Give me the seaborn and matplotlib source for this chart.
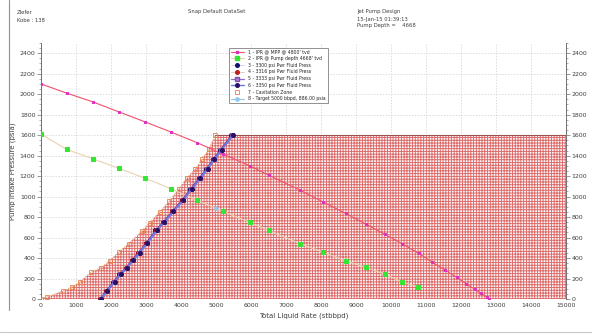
import matplotlib
matplotlib.use("Agg")
import matplotlib.pyplot as plt
import seaborn as sns
import numpy as np
import pandas as pd
from matplotlib.lines import Line2D

# ---------------- data ----------------
ipr_mpp_x = [0, 740, 1480, 2220, 2970, 3720, 4470, 5200, 5970, 6500, 7400, 8070, 8700,
             9280, 9820, 10320, 10790, 11180, 11540, 11880, 12150, 12390, 12570, 12740, 12800]
ipr_mpp_y = [2100, 2010, 1925, 1828, 1730, 1630, 1525, 1415, 1300, 1210, 1063, 946, 836,
             732, 632, 540, 445, 360, 283, 211, 149, 95, 56, 17, 0]

ipr_pump_x = [0, 740, 1480, 2230, 2970, 3720, 4470, 5210, 5960, 6500, 7400, 8070, 8700,
              9280, 9830, 10320, 10780]
ipr_pump_y = [1610, 1460, 1369, 1275, 1180, 1076, 963, 855, 748, 670, 540, 455, 373,
              309, 242, 166, 118]

pf3300_x = [1680, 1850, 2060, 2240, 2420, 2590, 2770, 2990, 3270, 3480, 3740, 4020,
            4260, 4510, 4720, 4910, 5120, 5440]
pf3300_y = [0, 78, 166, 241, 306, 377, 452, 543, 670, 748, 855, 963,
            1073, 1178, 1271, 1363, 1457, 1600]
pf3316_x = [1695, 1865, 2075, 2255, 2435, 2605, 2785, 3005, 3285, 3495, 3755, 4035,
            4275, 4525, 4735, 4925, 5135, 5455]
pf3316_y = [0, 78, 166, 241, 306, 377, 452, 543, 670, 748, 855, 963,
            1073, 1178, 1271, 1363, 1457, 1600]
pf3333_x = [1710, 1880, 2090, 2270, 2450, 2620, 2800, 3020, 3300, 3510, 3770, 4050,
            4290, 4540, 4750, 4940, 5150, 5470]
pf3333_y = [0, 78, 166, 241, 306, 377, 452, 543, 670, 748, 855, 963,
            1073, 1178, 1271, 1363, 1457, 1600]
pf3350_x = [1725, 1895, 2105, 2285, 2465, 2635, 2815, 3035, 3315, 3525, 3785, 4065,
            4305, 4555, 4765, 4955, 5165, 5485]
pf3350_y = [0, 78, 166, 241, 306, 377, 452, 543, 670, 748, 855, 963,
            1073, 1178, 1271, 1363, 1457, 1600]

cav_x = [0, 180, 630, 880, 1120, 1430, 1720, 1960, 2220, 2500, 2880, 3100, 3390,
         3670, 3930, 4160, 4410, 4600, 4790, 4980]
cav_y = [0, 20, 78, 117, 169, 263, 306, 374, 459, 540, 663, 745, 849,
         959, 1073, 1180, 1271, 1366, 1460, 1600]
cav_limit_psia = 1600
rate_max = 15000

target_x = [5000]
target_y = [886]

labels = [
    "1 - IPR @ MPP @ 4800' tvd",
    "2 - IPR @ Pump depth 4668' tvd",
    "3 - 3300 psi Pwr Fluid Press",
    "4 - 3316 psi Pwr Fluid Press",
    "5 - 3333 psi Pwr Fluid Press",
    "6 - 3350 psi Pwr Fluid Press",
    "7 - Cavitation Zone",
    "8 - Target 5000 bbpd, 886.00 psia",
]

x_ticks = list(range(0, 15001, 1000))
y_ticks = list(range(0, 2401, 200))

# ---------------- style ----------------
sns.set_theme(style="white")
plt.rcParams["font.family"] = ["DejaVu Sans"]
plt.rcParams["hatch.linewidth"] = 0.65

fig = plt.figure(figsize=(5.92, 3.34), dpi=100)
ax = fig.add_axes([41 / 592, 1 - 299 / 334, 525 / 592, 256 / 334])

# cavitation zone (hatched)
zone_x = cav_x + [rate_max]
zone_y = cav_y + [cav_limit_psia]
ax.fill_between(zone_x, 0, zone_y, facecolor="#fdf3f3", edgecolor="#dc6a6a",
                hatch="++++++", linewidth=0, zorder=1)
ax.plot([cav_x[-1], rate_max], [cav_limit_psia, cav_limit_psia],
        color="#a05050", lw=0.8, zorder=2)

def draw(x, y, **kw):
    df = pd.DataFrame({"x": x, "y": y})
    sns.lineplot(data=df, x="x", y="y", ax=ax, sort=False, estimator=None,
                 legend=False, **kw)

# cavitation curve
draw(cav_x, cav_y, color="#dcb878", lw=0.7, linestyle=(0, (1.5, 1.5)),
     marker="s", markersize=3.0, markerfacecolor="none",
     markeredgecolor="#e8804a", markeredgewidth=0.6, zorder=3)

# IPR curves
draw(ipr_pump_x, ipr_pump_y, color="#ead2b0", lw=0.8,
     marker="s", markersize=2.3, markerfacecolor="#33e633",
     markeredgecolor="#33e633", zorder=4)
draw(ipr_mpp_x, ipr_mpp_y, color="#f0506e", lw=0.8,
     marker="s", markersize=1.9, markerfacecolor="#e030c0",
     markeredgecolor="#e030c0", zorder=4)

# power fluid lines
draw(pf3300_x, pf3300_y, color="#3030a0", lw=0.6, marker="o", markersize=2.8,
     markerfacecolor="#101070", markeredgecolor="#101070", zorder=5)
draw(pf3316_x, pf3316_y, color="#b04060", lw=0.6, marker="o", markersize=2.8,
     markerfacecolor="#a01030", markeredgecolor="#a01030", zorder=5)
draw(pf3333_x, pf3333_y, color="#9070d0", lw=0.9, marker="s", markersize=2.6,
     markerfacecolor="#8050b0", markeredgecolor="#8050b0", zorder=5)
draw(pf3350_x, pf3350_y, color="#6a78e8", lw=1.3, marker="o", markersize=2.8,
     markerfacecolor="#2a1060", markeredgecolor="#2a1060", zorder=6)

# target point
draw(target_x, target_y, color="#90c8f0", lw=0.8, marker="o", markersize=2.5,
     markerfacecolor="#90c8f0", markeredgecolor="#90c8f0", zorder=7)

# ---------------- axes ----------------
ax.set_xlim(0, rate_max)
ax.set_ylim(0, 2500)
ax.set_xticks(x_ticks)
ax.set_yticks(y_ticks)
ax.set_yticks(list(range(0, 2501, 50)), minor=True)
ax.grid(True, which="major", color="#d0d0d0", linestyle=(0, (1.5, 2)), lw=0.6)
ax.set_axisbelow(True)

for s in ["top", "bottom"]:
    ax.spines[s].set_visible(False)
for s in ["left", "right"]:
    ax.spines[s].set_visible(True)
    ax.spines[s].set_color("#707070")
    ax.spines[s].set_linewidth(0.7)

ax.tick_params(axis="y", which="major", left=True, right=True, labelleft=True,
               labelright=True, length=3, width=0.5, color="#707070",
               labelsize=4.5, labelcolor="#404040", pad=1)
ax.tick_params(axis="y", which="minor", left=True, right=True, length=1.5,
               width=0.4, color="#707070")
ax.tick_params(axis="x", which="major", bottom=False, length=0, labelsize=4.5,
               labelcolor="#404040", pad=3)
ax.set_xlabel("Total Liquid Rate (stbbpd)", fontsize=5, color="#404040", labelpad=3)
ax.set_ylabel("Pump Intake Pressure (psia)", fontsize=5, color="#404040", labelpad=3)

# legend
handles = [
    Line2D([], [], color="#f0506e", lw=0.8, marker="s", ms=2.0, mfc="#e030c0", mec="#e030c0"),
    Line2D([], [], color="#ead2b0", lw=0.8, marker="s", ms=2.6, mfc="#33e633", mec="#33e633"),
    Line2D([], [], color="#c8c8e8", lw=0.6, marker="o", ms=2.6, mfc="#101070", mec="#101070"),
    Line2D([], [], color="#e8c0c0", lw=0.6, marker="o", ms=2.6, mfc="#c02020", mec="#c02020"),
    Line2D([], [], color="#9070d0", lw=0.9, marker="s", ms=2.6, mfc="#b080d0", mec="#8050b0"),
    Line2D([], [], color="#6a78e8", lw=1.0, marker="o", ms=2.6, mfc="#2a1060", mec="#2a1060"),
    Line2D([], [], color="none", marker="s", ms=2.8, mfc="none", mec="#e8804a", mew=0.6),
    Line2D([], [], color="#90c8f0", lw=0.8, marker="o", ms=2.4, mfc="#90c8f0", mec="#90c8f0"),
]
leg = ax.legend(handles, labels, loc="upper left", bbox_to_anchor=(0.358, 0.982),
                fontsize=3.3, frameon=True, fancybox=False, edgecolor="#808080",
                framealpha=1, borderpad=0.35, labelspacing=0.38, handlelength=3.0,
                handletextpad=0.9, borderaxespad=0)
leg.get_frame().set_linewidth(0.6)
leg.set_zorder(10)

# header texts
hdr = dict(fontsize=3.8, color="#404040", transform=fig.transFigure, va="center", ha="left")
fig.text(17 / 592, 1 - 13 / 334, "Zlefer", **hdr)
fig.text(17 / 592, 1 - 20 / 334, "Kobe : 138", **hdr)
fig.text(188 / 592, 1 - 12 / 334, "Snap Default DataSet", **hdr)
fig.text(357 / 592, 1 - 12 / 334, "Jet Pump Design", **hdr)
fig.text(357 / 592, 1 - 19 / 334, "15-Jan-15 01:39:13", **hdr)
fig.text(357 / 592, 1 - 26 / 334, "Pump Depth =    4668", **hdr)

# window borders
fig.add_artist(Line2D([9 / 592, 9 / 592], [1 - 310 / 334, 1.0], color="#909090",
                      lw=0.8, transform=fig.transFigure))
fig.add_artist(Line2D([0, 1], [1 - 332 / 334, 1 - 332 / 334], color="#c8c8c8",
                      lw=0.8, transform=fig.transFigure))

fig.savefig("out.png", dpi=100)
